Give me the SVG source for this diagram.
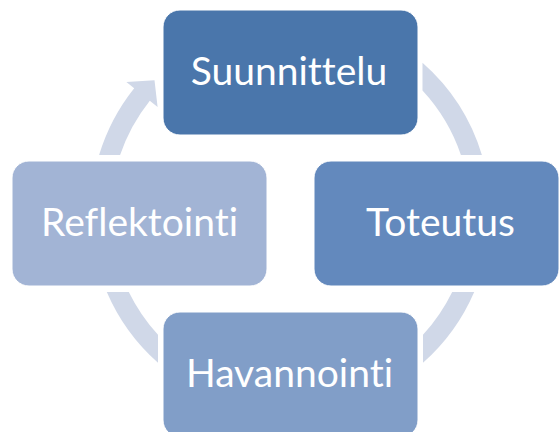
<svg xmlns="http://www.w3.org/2000/svg" width="560" height="432" viewBox="0 0 560 432">
<style>
.arc{fill:#D0D8E8;}
.box{stroke:#FFFFFF;stroke-width:1;}
.lbl{font-family:Lato,"Open Sans","Liberation Sans",sans-serif;font-size:39px;fill:#FFFFFF;text-anchor:middle;font-variant-ligatures:none;font-feature-settings:"liga" 0,"dlig" 0,"clig" 0;}
</style>
<rect width="560" height="432" fill="#FFFFFF"/>
<g id="connectors">
<path class="arc" d="M 422.5 62.75 A 200 200 0 0 1 481.9 155 L 460.9 155 A 180 180 0 0 0 422.5 90.6 Z"/>
<path class="arc" d="M 474.2 292 A 200 200 0 0 1 423 362.8 L 423 334.8 A 180 180 0 0 0 452.2 292 Z"/>
<path class="arc" d="M 158 362.8 A 200 200 0 0 1 106.8 292 L 128.8 292 A 180 180 0 0 0 158 334.8 Z"/>
<path class="arc" d="M 99.1 155 A 200 200 0 0 1 134.2 88.2 L 126.4 82 L 154.5 80.3 L 157.6 106.9 L 149.8 100.7 A 180 180 0 0 0 120.1 155 Z"/>
</g>
<g id="node-suunnittelu">
<rect class="box" x="163" y="10" width="255" height="125" rx="17" fill="#4A76AB"/>
<text class="lbl" x="289" y="85">Suunnittelu</text>
</g>
<g id="node-toteutus">
<rect class="box" x="314" y="161" width="245" height="125" rx="17" fill="#6389BD"/>
<text class="lbl" x="440.5" y="236">Toteutus</text>
</g>
<g id="node-havannointi">
<rect class="box" x="163" y="312" width="255" height="125" rx="17" fill="#819EC8"/>
<text class="lbl" x="289.5" y="387">Havannointi</text>
</g>
<g id="node-reflektointi">
<rect class="box" x="12" y="161" width="255" height="125" rx="17" fill="#A2B4D5"/>
<text class="lbl" x="139.5" y="236">Reflektointi</text>
</g>
</svg>
